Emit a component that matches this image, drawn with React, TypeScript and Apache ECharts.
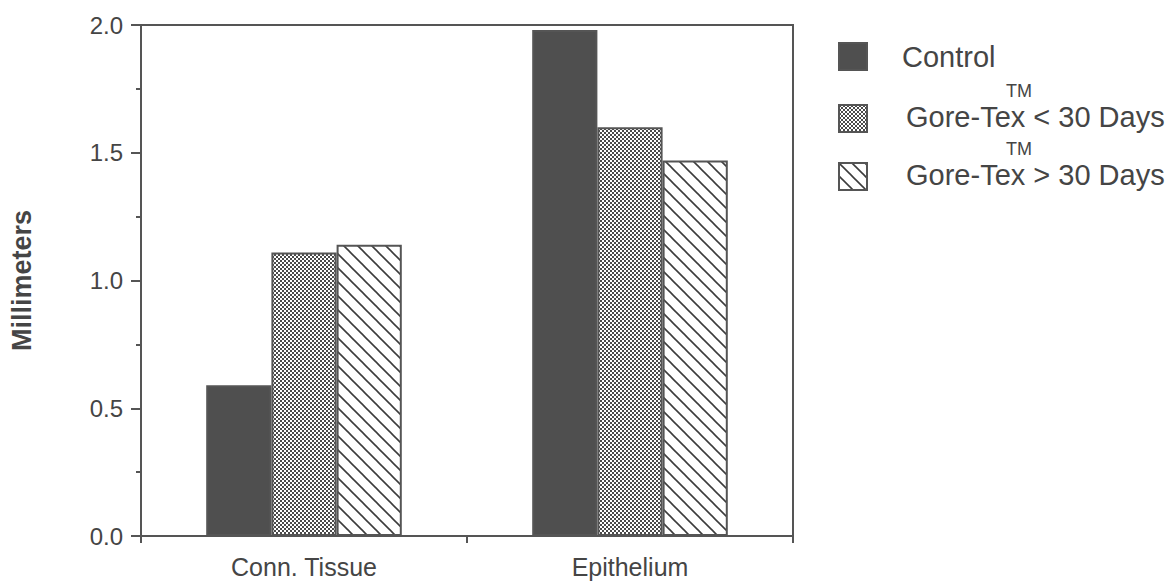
import React, { useEffect, useRef } from "react";
import * as echarts from "echarts";

const categories = ["Conn. Tissue", "Epithelium"];
const controlValues = [0.59, 1.98];
const goreLessValues = [1.11, 1.6];
const goreMoreValues = [1.14, 1.47];
const yTicks = [0, 0.5, 1.0, 1.5, 2.0];
const legendNames = ["Control", "Gore-Tex < 30 Days", "Gore-Tex > 30 Days"];

const INK = "#555555";
const TEXT = "#454545";
const FONT = "'Liberation Sans', Arial, Helvetica, sans-serif";

function checkerCanvas() {
  const c = document.createElement("canvas");
  c.width = 4;
  c.height = 4;
  const g = c.getContext("2d")!;
  g.fillStyle = "#ffffff";
  g.fillRect(0, 0, 4, 4);
  g.fillStyle = "#4a4a4a";
  g.fillRect(0, 0, 2, 2);
  g.fillRect(2, 2, 2, 2);
  return c;
}

function hatchCanvas(size: number) {
  const c = document.createElement("canvas");
  c.width = size;
  c.height = size;
  const g = c.getContext("2d")!;
  g.fillStyle = "#ffffff";
  g.fillRect(0, 0, size, size);
  g.strokeStyle = "#3c3c3c";
  g.lineWidth = 1.6;
  for (const off of [-size, 0, size]) {
    g.beginPath();
    g.moveTo(off - 1, -1);
    g.lineTo(off + size + 1, size + 1);
    g.stroke();
  }
  return c;
}

export default function App() {
  const ref = useRef<HTMLDivElement>(null);
  useEffect(() => {
    if (!ref.current) return;
    const chart = echarts.init(ref.current, undefined, { renderer: "svg" });
    const checker = checkerCanvas();
    const hatch = hatchCanvas(14);
    const hatchSmall = hatchCanvas(13);
    const checkerFill: any = { image: checker, repeat: "repeat", imageWidth: 4, imageHeight: 4 };
    const hatchFill: any = { image: hatch, repeat: "repeat", imageWidth: 14, imageHeight: 14 };
    const hatchFillSmall: any = { image: hatchSmall, repeat: "repeat", imageWidth: 13, imageHeight: 13 };
    const controlFill = "#4f4f4f";

    const barStyle = (fill: any) => ({ color: fill, borderColor: INK, borderWidth: 2 });

    const legendY = [42, 104, 162];
    const legendFills = [controlFill, checkerFill, hatchFillSmall];
    const legendGraphics: any[] = [];
    legendNames.forEach((name, i) => {
      legendGraphics.push({
        type: "rect",
        left: 838,
        top: legendY[i],
        shape: { width: 28, height: 27 },
        style: { fill: legendFills[i], stroke: INK, lineWidth: 2 },
      });
      legendGraphics.push({
        type: "text",
        left: i === 0 ? 902 : 906,
        top: legendY[i] + (i === 0 ? 0 : -2),
        style: { text: name, fill: TEXT, font: `29px ${FONT}` },
      });
      if (i > 0) {
        legendGraphics.push({
          type: "text",
          left: 1006,
          top: legendY[i] - 22,
          style: { text: "TM", fill: TEXT, font: `18px ${FONT}` },
        });
      }
    });

    chart.setOption({
      animation: false,
      backgroundColor: "#ffffff",
      grid: {
        left: 140,
        right: 374,
        top: 25,
        bottom: 47,
        show: true,
        borderColor: INK,
        borderWidth: 2,
        backgroundColor: "transparent",
      },
      xAxis: {
        type: "category",
        data: categories,
        axisLine: { lineStyle: { color: INK, width: 2 } },
        axisTick: { show: true, alignWithLabel: false, length: 7, lineStyle: { color: INK, width: 2 } },
        axisLabel: { color: TEXT, fontSize: 25, fontFamily: FONT, margin: 18 },
      },
      yAxis: {
        type: "value",
        min: 0,
        max: 2,
        interval: 0.5,
        name: "Millimeters",
        nameLocation: "middle",
        nameGap: 106,
        nameTextStyle: { color: TEXT, fontSize: 27, fontWeight: "bold", fontFamily: FONT },
        axisLine: { show: true, lineStyle: { color: INK, width: 2 } },
        axisTick: { show: true, length: 10, lineStyle: { color: INK, width: 2 } },
        minorTick: { show: true, splitNumber: 2, length: 5, lineStyle: { color: INK, width: 2 } },
        splitLine: { show: false },
        axisLabel: {
          color: TEXT,
          fontSize: 24,
          fontFamily: FONT,
          margin: 18,
          formatter: (v: number) => (yTicks.includes(v) ? v.toFixed(1) : ""),
        },
      },
      series: [
        {
          name: legendNames[0],
          type: "bar",
          data: controlValues,
          barGap: "0%",
          barCategoryGap: "40%",
          itemStyle: barStyle(controlFill),
        },
        {
          name: legendNames[1],
          type: "bar",
          data: goreLessValues,
          barGap: "0%",
          barCategoryGap: "40%",
          itemStyle: barStyle(checkerFill),
        },
        {
          name: legendNames[2],
          type: "bar",
          data: goreMoreValues,
          barGap: "0%",
          barCategoryGap: "40%",
          itemStyle: barStyle(hatchFill),
        },
      ],
      graphic: legendGraphics,
    });
    return () => chart.dispose();
  }, []);
  return <div ref={ref} style={{ width: 1167, height: 583, position: "absolute", left: 0, top: 0 }} />;
}
